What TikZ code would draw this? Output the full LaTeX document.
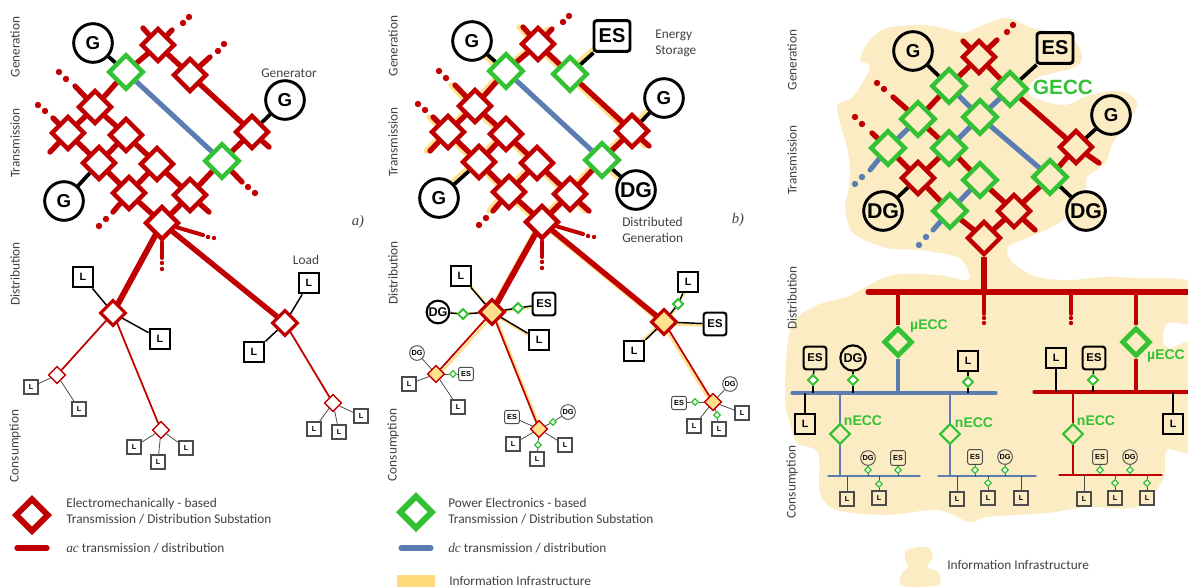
\documentclass[tikz,border=0pt]{standalone}
\usepackage{fontspec}
\setmainfont{Carlito}
\newfontfamily\arialfont{Liberation Sans}
\newfontfamily\timesfont{Liberation Serif}
\usetikzlibrary{shapes.geometric}

\definecolor{acred}{HTML}{C00000}
\definecolor{dcblue}{HTML}{5B7DB1}
\definecolor{pegreen}{HTML}{33C233}
\definecolor{infoyellow}{HTML}{FFE08C}
\definecolor{infolegend}{HTML}{FFD97A}
\definecolor{infopale}{HTML}{FBECC4}
\definecolor{labelgray}{HTML}{404040}

\pgfdeclarelayer{blob}
\pgfdeclarelayer{wires}
\pgfsetlayers{blob,wires,main}

\tikzset{
  % substations
  subst/.style={diamond,aspect=1,inner sep=0pt,fill=white},
  rsub/.style={subst,draw=acred,line width=3.3pt,minimum size=25.5pt},
  gsub/.style={subst,draw=pegreen,line width=3.3pt,minimum size=26.5pt},
  rdist/.style={subst,draw=acred,line width=2.3pt,minimum size=19.5pt},
  rlow/.style={subst,draw=acred,line width=1.1pt,minimum size=13pt},
  gmid/.style={subst,draw=pegreen,line width=1.5pt,minimum size=8pt},
  gtiny/.style={subst,draw=pegreen,line width=.9pt,minimum size=5.2pt},
  % sources and loads
  source/.style={fill=white,inner sep=0pt},
  genbig/.style={source,circle,draw=black,line width=2.2pt,minimum size=29pt,font=\arialfont\bfseries\fontsize{14}{14}\selectfont},
  esbig/.style={source,rectangle,rounded corners=2pt,draw=black,line width=2.2pt,minimum width=27pt,minimum height=23pt,font=\arialfont\bfseries\fontsize{15}{15}\selectfont},
  genmid/.style={source,circle,draw=black,line width=1.6pt,minimum size=17pt,font=\arialfont\bfseries\fontsize{9.5}{9.5}\selectfont},
  esmid/.style={source,rectangle,rounded corners=2pt,draw=black,line width=1.6pt,minimum size=17pt,font=\arialfont\bfseries\fontsize{8.5}{8.5}\selectfont},
  loadmid/.style={source,rectangle,draw=black,line width=1.6pt,minimum size=15.5pt,font=\arialfont\bfseries\fontsize{8}{8}\selectfont},
  genlow/.style={source,circle,draw=black!70,line width=.7pt,minimum size=11pt,font=\arialfont\bfseries\fontsize{5.5}{5.5}\selectfont},
  eslow/.style={source,rectangle,rounded corners=1.5pt,draw=black!70,line width=.7pt,minimum width=11pt,minimum height=10pt,font=\arialfont\bfseries\fontsize{5.5}{5.5}\selectfont},
  loadlow/.style={source,rectangle,draw=black!70,line width=.8pt,minimum size=10.5pt,font=\arialfont\bfseries\fontsize{5.5}{5.5}\selectfont},
  % wires
  acline/.style={draw=acred,line width=4pt,line cap=round},
  dcline/.style={draw=dcblue,line width=3.8pt,line cap=round},
  genwire/.style={draw=black,line width=2.8pt},
  loadwire/.style={draw=black,line width=1.1pt},
  lowwire/.style={draw=black!70,line width=.6pt},
  redthin/.style={draw=acred,line width=1.3pt},
  infoline/.style={draw=infoyellow,line width=4pt,line cap=round},
  infothin/.style={draw=infoyellow,line width=1.8pt},
  % texts
  caption/.style={text=labelgray,font=\fontsize{10}{12}\selectfont,align=left,inner sep=0pt},
  sidelabel/.style={caption,rotate=90},
  ecclabel/.style={text=pegreen,inner sep=0pt,font=\arialfont\bfseries\fontsize{10.5}{10.5}\selectfont},
}

\def\gridpairs{StA/C,C/B,B/Ga,Ga/T,T/StB,E/D,StC/H,H/F,K/I,I/Gb,Gb/J,StD/T,T/S,S/J,J/StE,StG/B,B/D,D/F,F/I,I/StH,StI/C,C/E,E/H,H/K}

\newcommand{\gridnet}[1]{%
  \foreach \n/\x/\y in {T/158/45,B/95/107,C/68/133,D/126/135,E/99/163,F/157/164,H/129/193,I/190/195,J/252/132,K/162/223}
    \node[rsub] (#1\n) at (\x,\y) {};
  \node[gsub] (#1Ga) at (126,72) {};
  \node[gsub] (#1Gb) at (222,161) {};
  \foreach \n/\x/\y in {StA/50/152,StB/172/30,StC/113/212,StD/143/28,StE/269/147,StG/75/86,StH/209/212,StI/53/118,StJ/162/258,StK/203/235}
    \coordinate (#1\n) at (\x,\y);
  \foreach \x/\y in {183/23,189/17,106/219,99/226,66/79,59/72,45/111,38/105}
    \fill[acred] (\x,\y) circle (3.2);
  \foreach \x/\y in {162/263,162/269,208/237,214/238}
    \fill[acred] (\x,\y) circle (2.2);
}
\newcommand{\gridwires}[1]{%
  \begin{pgfonlayer}{wires}
    \foreach \p/\q in \gridpairs
      \draw[acline] (#1\p) -- (#1\q);
    \draw[dcline,line cap=butt] (#1Ga) -- (#1Gb);
    \draw[acline,line width=3pt] (#1K) -- (#1StJ);
    \draw[acline,line width=3pt] (#1K) -- (#1StK);
  \end{pgfonlayer}
}

\begin{document}
\begin{tikzpicture}[x=0.75pt,y=-0.75pt]
  \useasboundingbox (0,0) rectangle (1188,587);

  %% panel a
  \gridnet{a}
  \node[rsub] (aS) at (190,75) {};
  \coordinate (aStF) at (242,182);
  \coordinate (aStS) at (210,57);
  \gridwires{a}
  \foreach \x/\y in {248/187,255/193,218/51,224/44}
    \fill[acred] (\x,\y) circle (3.2);
  \node[genbig] (aGenA) at (93,43) {G};
  \node[genbig] (aGenB) at (285,100) {G};
  \node[genbig] (aGenC) at (64,201) {G};
  \node[rdist] (aDa) at (113,313) {};
  \node[rdist] (aDb) at (285,323) {};
  \foreach \n/\x/\y in {aLa/83/277,aLb/160/339,aLc/309/283,aLd/254/352}
    \node[loadmid] (\n) at (\x,\y) {L};
  \foreach \n/\x/\y in {aLowA/57/375,aLowB/161/430,aLowC/333/403}
    \node[rlow] (\n) at (\x,\y) {};
  \foreach \n/\x/\y in {aLe/31/387,aLf/79/409,aLg/134/447,aLh/186/448,aLi/158/462,aLj/314/429,aLk/339/432,aLl/361/416}
    \node[loadlow] (\n) at (\x,\y) {L};
  \begin{pgfonlayer}{wires}
    \draw[acline] (aS) -- (aStS);
    \draw[acline] (aGb) -- (aStF);
    \draw[genwire] (aGenA) -- (aGa);
    \draw[genwire] (aGenB) -- (aJ);
    \draw[genwire] (aGenC) -- (aE);
    \draw[acline,line width=4.4pt] (aK) -- (aDa);
    \draw[acline] (aK) -- (aDb);
    \foreach \p/\q in {aLa/aDa,aLb/aDa,aLc/aDb,aLd/aDb}
      \draw[loadwire] (\p) -- (\q);
    \foreach \p/\q in {aDa/aLowA,aDa/aLowB,aDb/aLowC}
      \draw[redthin] (\p) -- (\q);
    \foreach \p/\q in {aLowA/aLe,aLowA/aLf,aLowB/aLg,aLowB/aLh,aLowB/aLi,aLowC/aLj,aLowC/aLk,aLowC/aLl}
      \draw[lowwire] (\p) -- (\q);
  \end{pgfonlayer}
  \node[caption] (aGenText) at (289,73) {Generator};
  \node[caption] (aLoadText) at (306,260) {Load};
  \node[text=labelgray,inner sep=0pt,font=\timesfont\itshape\fontsize{11}{11}\selectfont] (aTag) at (358,222) {a)};
  \node[sidelabel] (aSideA) at (15,47) {Generation};
  \node[sidelabel] (aSideB) at (15,143) {Transmission};
  \node[sidelabel] (aSideC) at (15,274) {Distribution};
  \node[sidelabel] (aSideD) at (15,446) {Consumption};
  % legend a
  \node[subst,draw=acred,line width=4.5pt,minimum size=25.5pt] (aKeySub) at (32,515) {};
  \node[caption,anchor=west] (aKeySubText) at (66,511) {Electromechanically - based\\Transmission / Distribution Substation};
  \coordinate (aKeyW) at (17,548);
  \coordinate (aKeyE) at (47,548);
  \draw[acline] (aKeyW) -- (aKeyE);
  \node[caption,anchor=west] (aKeyAcText) at (66,548) {{\timesfont\itshape ac} transmission / distribution};

  %% panel b
  \begin{scope}[shift={(380,-1)}]
    \gridnet{b}
    \node[gsub] (bS) at (190,75) {};
  \end{scope}
  \gridwires{b}
  \node[genbig] (bGenA) at (472,41) {G};
  \node[esbig] (bStoA) at (612,36) {ES};
  \node[genbig] (bGenB) at (664,98) {G};
  \node[genbig] (bGenC) at (439,198) {G};
  \node[genbig,font=\arialfont\bfseries\fontsize{16}{16}\selectfont] (bDgA) at (636,190) {DG};
  \node[rdist,fill=infoyellow] (bDa) at (492,312) {};
  \node[rdist,fill=infoyellow] (bDb) at (664,322) {};
  \foreach \n/\x/\y in {bLa/461/276,bLb/539/340,bLc/688/282,bLd/634/351}
    \node[loadmid] (\n) at (\x,\y) {L};
  \node[genmid] (bDgB) at (438,312) {DG};
  \node[esmid] (bStoB) at (544,304) {ES};
  \node[esmid] (bStoC) at (715,324) {ES};
  \foreach \n/\x/\y in {bGmA/463/314,bGmB/518/308,bGmC/678/304}
    \node[gmid] (\n) at (\x,\y) {};
  \foreach \n/\x/\y in {bLowA/436/374,bLowB/539/429,bLowC/713/402}
    \node[rlow,fill=infoyellow] (\n) at (\x,\y) {};
  \foreach \n/\x/\y in {bLe/409/384,bLf/458/407,bLg/513/444,bLh/565/445,bLi/537/459,bLj/694/426,bLk/719/429,bLl/742/413}
    \node[loadlow] (\n) at (\x,\y) {L};
  \foreach \n/\x/\y in {bDgC/417/353,bDgD/568/412,bDgE/730/384}
    \node[genlow] (\n) at (\x,\y) {DG};
  \foreach \n/\x/\y in {bStoD/466/374,bStoE/512/417,bStoF/679/403}
    \node[eslow] (\n) at (\x,\y) {ES};
  \foreach \n/\x/\y in {bGtA/453/374,bGtB/553/422,bGtC/538/445,bGtD/695/402,bGtE/717/415}
    \node[gtiny] (\n) at (\x,\y) {};
  \begin{pgfonlayer}{blob}
    \foreach \p/\q in \gridpairs
      \draw[infoline] ([xshift=-3pt]b\p.center) -- ([xshift=-3pt]b\q.center);
    \foreach \p/\q in {bGa/bGenA,bS/bStoA,bJ/bGenB,bE/bGenC,bGb/bDgA}
      \draw[infoline] ([xshift=-3pt]\p.center) -- ([xshift=-3pt]\q.center);
    \foreach \p/\q/\dx/\dy in {bK/bDa/-3/0,bK/bDb/-2/2,bDa/bLa/2/1,bDa/bLb/1/2,bDa/bDgB/0/1,bDa/bStoB/0/1,bDa/bLowA/2/2,bDa/bLowB/2/1,bDb/bLc/2/2,bDb/bLd/-1/-1,bDb/bStoC/0/2,bDb/bLowC/-2/1}
      \draw[infothin] ([shift={(\dx,\dy)}]\p.center) -- ([shift={(\dx,\dy)}]\q.center);
  \end{pgfonlayer}
  \begin{pgfonlayer}{wires}
    \draw[genwire] (bGenA) -- (bGa);
    \draw[genwire] (bStoA) -- (bS);
    \draw[genwire] (bGenB) -- (bJ);
    \draw[genwire] (bGenC) -- (bE);
    \draw[genwire] (bDgA) -- (bGb);
    \draw[acline,line width=4.4pt] (bK) -- (bDa);
    \draw[acline] (bK) -- (bDb);
    \foreach \p/\q in {bLa/bDa,bLb/bDa,bDgB/bGmA,bGmA/bDa,bStoB/bGmB,bGmB/bDa,bLc/bGmC,bGmC/bDb,bLd/bDb,bStoC/bDb}
      \draw[loadwire] (\p) -- (\q);
    \foreach \p/\q in {bDa/bLowA,bDa/bLowB,bDb/bLowC}
      \draw[redthin] (\p) -- (\q);
    \foreach \p/\q in {bLowA/bDgC,bLowA/bLe,bLowA/bLf,bLowA/bGtA,bGtA/bStoD,bLowB/bStoE,bLowB/bGtB,bGtB/bDgD,bLowB/bLg,bLowB/bLh,bLowB/bGtC,bGtC/bLi,bLowC/bDgE,bLowC/bGtD,bGtD/bStoF,bLowC/bLj,bLowC/bGtE,bGtE/bLk,bLowC/bLl}
      \draw[lowwire] (\p) -- (\q);
  \end{pgfonlayer}
  \node[caption,anchor=west] (bStoText) at (655,43) {Energy\\Storage};
  \node[caption,anchor=west] (bDgText) at (622,230) {Distributed\\Generation};
  \node[text=labelgray,inner sep=0pt,font=\timesfont\itshape\fontsize{11}{11}\selectfont] (bTag) at (738,220) {b)};
  \node[sidelabel] (bSideA) at (393,46) {Generation};
  \node[sidelabel] (bSideB) at (393,142) {Transmission};
  \node[sidelabel] (bSideC) at (393,273) {Distribution};
  \node[sidelabel] (bSideD) at (393,445) {Consumption};
  % legend b
  \node[subst,draw=pegreen,line width=4.5pt,minimum size=25.5pt] (bKeySub) at (416,512) {};
  \node[caption,anchor=west] (bKeySubText) at (448,511) {Power Electronics - based\\Transmission / Distribution Substation};
  \coordinate (bKeyW) at (401,548);
  \coordinate (bKeyE) at (431,548);
  \draw[dcline] (bKeyW) -- (bKeyE);
  \node[caption,anchor=west] (bKeyDcText) at (448,548) {{\timesfont\itshape dc} transmission / distribution};
  \fill[infolegend] (397,575) rectangle (435,587);
  \node[caption,anchor=west] (bKeyInfoText) at (449,581) {Information Infrastructure};

  %% panel c
  \begin{pgfonlayer}{blob}
    \fill[infopale] plot[smooth cycle,tension=.55] coordinates {
      (887,28) (920,25) (943,28) (963,33) (983,25) (1007,18) (1033,28) (1070,37) (1082,57) (1073,68)
      (1037,78) (1030,95) (1063,105) (1090,95) (1120,91) (1137,103) (1127,123) (1113,143) (1105,163)
      (1087,177) (1085,190) (1063,220) (1030,237) (1008,247) (1013,263) (1037,277) (1070,280) (1103,277)
      (1137,278) (1196,283) (1196,322) (1168,323) (1163,340) (1170,348) (1196,348) (1196,447) (1167,450)
      (1163,480) (1137,507) (1087,507) (1047,513) (987,517) (970,522) (937,510) (887,515) (837,510)
      (820,493) (818,453) (797,443) (790,423) (785,397) (790,330) (813,307) (847,297) (860,290) (893,275)
      (937,275) (967,280) (968,270) (957,257) (920,250) (887,248) (853,233) (845,207) (848,193) (850,170)
      (847,147) (837,107) (853,97) (870,67) (860,60) (870,40)};
    \fill[infopale] plot[smooth cycle,tension=.55] coordinates {
      (907,550) (927,547) (933,557) (927,567) (938,572) (938,585) (902,586) (902,573) (908,567) (905,558)};
  \end{pgfonlayer}
  \tikzset{subst/.append style={fill=infopale},source/.append style={fill=infopale}}
  \foreach \n/\x/\y in {cT/979/57,cJ/1076/147,cE/918/178,cM/1014/211,cK/984/238}
    \node[rsub] (\n) at (\x,\y) {};
  \foreach \n/\x/\y in {cGa/949/86,cGb/1010/89,cGc/918/119,cGd/980/117,cGe/888/148,cGf/949/148,cGg/1050/177,cGh/980/180,cGi/950/211}
    \node[gsub] (\n) at (\x,\y) {};
  \node[genbig] (cGenA) at (913,51) {G};
  \node[esbig] (cStoA) at (1055,48) {ES};
  \node[genbig] (cGenB) at (1111,115) {G};
  \node[genbig,font=\arialfont\bfseries\fontsize{16}{16}\selectfont] (cDgA) at (883,211) {DG};
  \node[genbig,font=\arialfont\bfseries\fontsize{16}{16}\selectfont] (cDgB) at (1086,211) {DG};
  \foreach \n/\x/\y in {cStA/997/40,cStB/963/41,cStC/1099/163,cStD/893/97,cStE/1035/230,cStF/872/133,cStG/870/170,cStH/933/230}
    \coordinate (\n) at (\x,\y);
  \foreach \x/\y in {1007/32,1013/25,877/83,884/89,855/117,862/124}
    \fill[acred] (\x,\y) circle (3.2);
  \foreach \x/\y in {855/184,862/177,919/245,926/237}
    \fill[dcblue] (\x,\y) circle (3.2);
  % buses
  \foreach \n/\x/\y in {cBusTw/868/292,cBusTe/1188/292,cBusAw/792/393,cBusAe/996/393,cBusBw/1034/392,cBusBe/1188/392,
      cBusCw/828/476,cBusCe/920/476,cBusDw/938/476,cBusDe/1036/476,cBusEw/1059/475,cBusEe/1162/475,
      cTapA/984/292,cTapB/1071/292,cStI/984/314,cStJ/1071/314}
    \coordinate (\n) at (\x,\y);
  \foreach \x/\y in {984/318,984/323,1071/318,1071/323}
    \fill[acred] (\x,\y) circle (2.2);
  \node[subst,draw=pegreen,line width=3.6pt,minimum size=21.5pt] (cMuA) at (898,342) {};
  \node[subst,draw=pegreen,line width=3.6pt,minimum size=21.5pt] (cMuB) at (1136,342) {};
  \foreach \n/\x/\y in {cNa/840/434,cNb/950/434,cNc/1073/434}
    \node[subst,draw=pegreen,line width=1.7pt,minimum size=15.5pt] (\n) at (\x,\y) {};
  \node[esmid] (cStoB) at (815,358) {ES};
  \node[genmid,minimum size=19pt] (cDgC) at (853,358) {DG};
  \node[esmid] (cStoC) at (1094,358) {ES};
  \foreach \n/\x/\y in {cLa/968/361,cLb/805/424,cLc/1056/358,cLd/1173/424}
    \node[loadmid] (\n) at (\x,\y) {L};
  \foreach \n/\x/\y in {cGmA/813/380,cGmB/853/380,cGmC/968/382,cGmD/1093/380}
    \node[gmid,fill=white] (\n) at (\x,\y) {};
  \foreach \n/\x/\y in {cDgD/868/458,cDgE/1005/457,cDgF/1130/457}
    \node[genlow] (\n) at (\x,\y) {DG};
  \foreach \n/\x/\y in {cStoD/898/458,cStoE/975/457,cStoF/1100/457}
    \node[eslow,minimum height=11pt] (\n) at (\x,\y) {ES};
  \foreach \n/\x/\y in {cGtA/868/470,cGtB/898/470,cGtC/975/470,cGtD/1005/470,cGtE/1100/470,cGtF/1130/470,cGtG/879/484,cGtH/988/483,cGtI/1115/483,cGtJ/1147/483}
    \node[gtiny,fill=white] (\n) at (\x,\y) {};
  \foreach \n/\x/\y in {cLe/847/499,cLf/879/498,cLg/957/499,cLh/988/498,cLi/1021/498,cLj/1084/499,cLk/1115/498,cLl/1147/498}
    \node[loadlow] (\n) at (\x,\y) {L};
  \begin{pgfonlayer}{wires}
    \foreach \p/\q in {cStB/cT,cT/cStA,cT/cGa,cT/cGb,cGb/cJ,cJ/cStC,cGa/cGc,cGc/cStD,cGc/cGf,cGf/cGh,cGh/cM,cM/cStE,cGe/cStF,cGe/cE,cE/cGf,cE/cGi,cGi/cK,cK/cM,cM/cGg,cGg/cJ}
      \draw[acline] (\p) -- (\q);
    \foreach \p/\q in {cGa/cGd,cGd/cGg,cGf/cGd,cGd/cGb,cGc/cGe,cGe/cStG,cGh/cGi,cGi/cStH}
      \draw[dcline] (\p) -- (\q);
    \foreach \p/\q in {cGenA/cGa,cStoA/cGb,cGenB/cJ,cDgA/cE,cDgB/cGg}
      \draw[genwire] (\p) -- (\q);
    \draw[acline,line width=3.8pt,line cap=butt] (cK) -- (cK |- cBusTw);
    \draw[acline,line width=3.8pt] (cBusTw) -- (cBusTe);
    \draw[acline,line width=2.8pt] (cTapA) -- (cStI);
    \draw[acline,line width=2.8pt] (cTapB) -- (cStJ);
    \draw[acline,line width=2.4pt,line cap=butt] (cMuA |- cBusTw) -- (cMuA);
    \draw[acline,line width=2.4pt,line cap=butt] (cMuB |- cBusTw) -- (cMuB);
    \draw[dcline,line width=2.4pt,line cap=butt] (cMuA) -- (cMuA |- cBusAw);
    \draw[acline,line width=2.4pt,line cap=butt] (cMuB) -- (cMuB |- cBusBw);
    \draw[dcline,line width=2.4pt] (cBusAw) -- (cBusAe);
    \draw[acline,line width=2.4pt] (cBusBw) -- (cBusBe);
    \foreach \n in {cNa,cNb} {
      \draw[dcline,line width=1.2pt,line cap=butt] (\n |- cBusAw) -- (\n);
      \draw[dcline,line width=1.2pt,line cap=butt] (\n) -- (\n |- cBusCw);
    }
    \draw[acline,line width=1.2pt,line cap=butt] (cNc |- cBusBw) -- (cNc);
    \draw[acline,line width=1.2pt,line cap=butt] (cNc) -- (cNc |- cBusEw);
    \draw[dcline,line width=1pt] (cBusCw) -- (cBusCe);
    \draw[dcline,line width=1pt] (cBusDw) -- (cBusDe);
    \draw[acline,line width=.9pt] (cBusEw) -- (cBusEe);
    \foreach \p/\q in {cStoB/cGmA,cDgC/cGmB,cLa/cGmC,cStoC/cGmD}
      \draw[loadwire] (\p) -- (\q);
    \foreach \n in {cGmA,cGmB,cGmC,cLb}
      \draw[loadwire] (\n) -- (\n |- cBusAw);
    \foreach \n in {cGmD,cLc,cLd}
      \draw[loadwire] (\n) -- (\n |- cBusBw);
    \foreach \p/\q in {cDgD/cGtA,cStoD/cGtB,cStoE/cGtC,cDgE/cGtD,cStoF/cGtE,cDgF/cGtF,cGtG/cLf,cGtH/cLh,cGtI/cLk,cGtJ/cLl}
      \draw[lowwire] (\p) -- (\q);
    \foreach \n in {cGtA,cGtB,cGtG,cLe}
      \draw[lowwire] (\n) -- (\n |- cBusCw);
    \foreach \n in {cGtC,cGtD,cGtH,cLg,cLi}
      \draw[lowwire] (\n) -- (\n |- cBusDw);
    \foreach \n in {cGtE,cGtF,cGtI,cGtJ,cLj}
      \draw[lowwire] (\n) -- (\n |- cBusEw);
  \end{pgfonlayer}
  \node[ecclabel,font=\arialfont\bfseries\fontsize{15.5}{15.5}\selectfont] (cGeccText) at (1063,87) {GECC};
  \node[ecclabel] (cMuAText) at (929,326) {µECC};
  \node[ecclabel] (cMuBText) at (1166,356) {µECC};
  \node[ecclabel] (cNaText) at (863,421) {nECC};
  \node[ecclabel] (cNbText) at (974,423) {nECC};
  \node[ecclabel] (cNcText) at (1096,421) {nECC};
  \node[sidelabel] (cSideA) at (792,60) {Generation};
  \node[sidelabel] (cSideB) at (792,160) {Transmission};
  \node[sidelabel] (cSideC) at (792,298) {Distribution};
  \node[sidelabel] (cSideD) at (792,482) {Consumption};
  \node[caption,anchor=west] (cKeyText) at (947,565) {Information Infrastructure};
\end{tikzpicture}
\end{document}
